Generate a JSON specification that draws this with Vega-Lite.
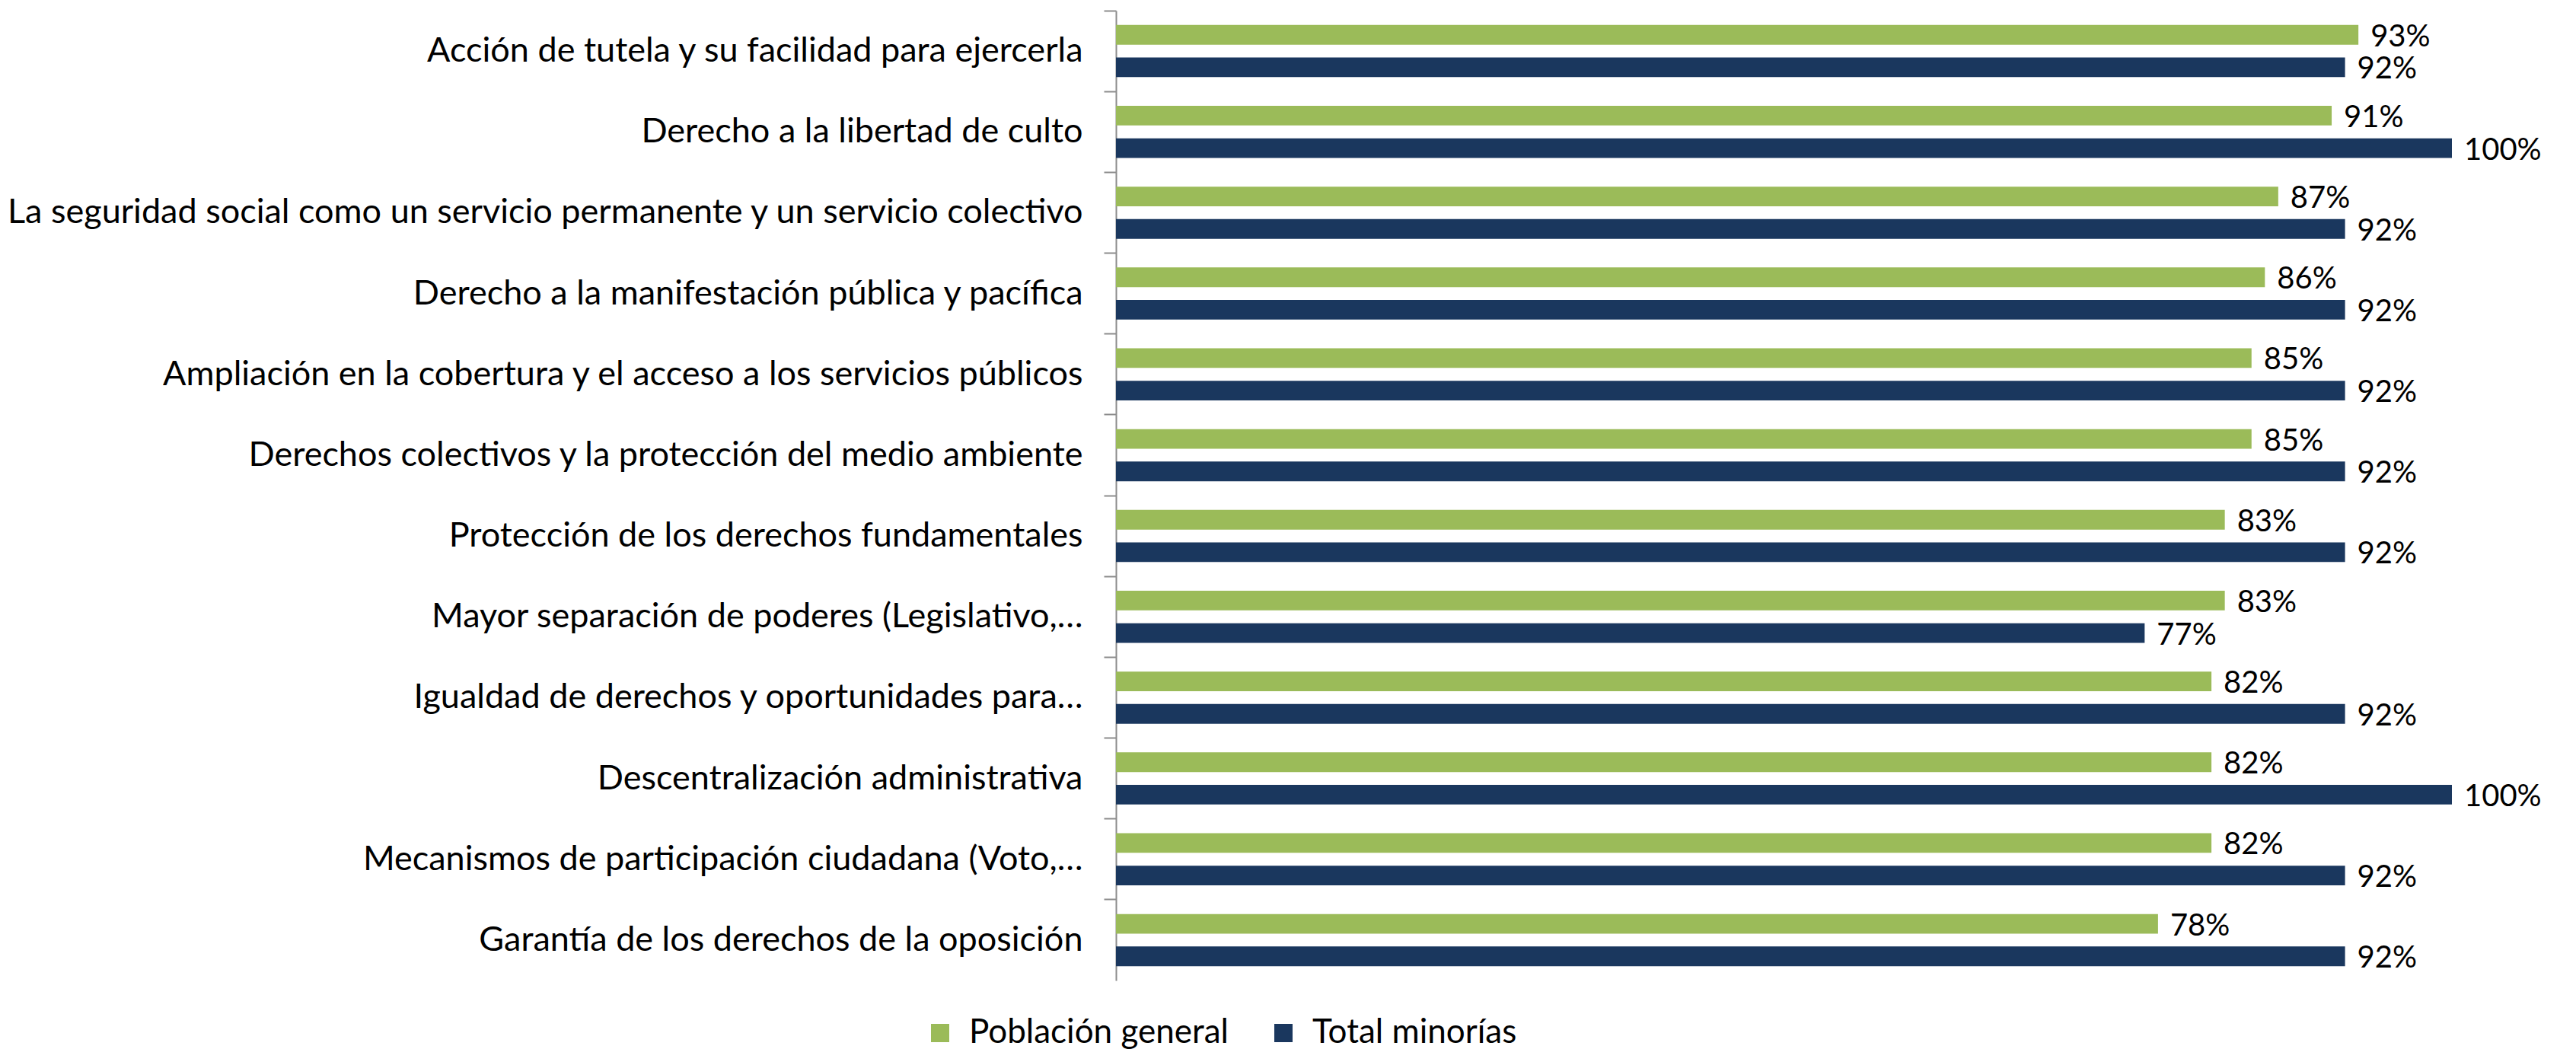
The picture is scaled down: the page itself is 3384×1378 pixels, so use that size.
{
  "$schema": "https://vega.github.io/schema/vega-lite/v6.json",
  "autosize": "none",
  "width": 1755,
  "height": 1274,
  "padding": {"left": 1466, "top": 14, "right": 163, "bottom": 90},
  "background": "white",
  "config": {"view": {"stroke": null}, "font": "Lato"},
  "data": {
    "values": [
      {"item": "Acción de tutela y su facilidad para ejercerla", "serie": "Población general", "valor": 0.93},
      {"item": "Acción de tutela y su facilidad para ejercerla", "serie": "Total minorías", "valor": 0.92},
      {"item": "Derecho a la libertad de culto", "serie": "Población general", "valor": 0.91},
      {"item": "Derecho a la libertad de culto", "serie": "Total minorías", "valor": 1.0},
      {"item": "La seguridad social como un servicio permanente y un servicio colectivo", "serie": "Población general", "valor": 0.87},
      {"item": "La seguridad social como un servicio permanente y un servicio colectivo", "serie": "Total minorías", "valor": 0.92},
      {"item": "Derecho a la manifestación pública y pacífica", "serie": "Población general", "valor": 0.86},
      {"item": "Derecho a la manifestación pública y pacífica", "serie": "Total minorías", "valor": 0.92},
      {"item": "Ampliación en la cobertura y el acceso a los servicios públicos", "serie": "Población general", "valor": 0.85},
      {"item": "Ampliación en la cobertura y el acceso a los servicios públicos", "serie": "Total minorías", "valor": 0.92},
      {"item": "Derechos colectivos y la protección del medio ambiente", "serie": "Población general", "valor": 0.85},
      {"item": "Derechos colectivos y la protección del medio ambiente", "serie": "Total minorías", "valor": 0.92},
      {"item": "Protección de los derechos fundamentales", "serie": "Población general", "valor": 0.83},
      {"item": "Protección de los derechos fundamentales", "serie": "Total minorías", "valor": 0.92},
      {"item": "Mayor separación de poderes (Legislativo,…", "serie": "Población general", "valor": 0.83},
      {"item": "Mayor separación de poderes (Legislativo,…", "serie": "Total minorías", "valor": 0.77},
      {"item": "Igualdad de derechos y oportunidades para…", "serie": "Población general", "valor": 0.82},
      {"item": "Igualdad de derechos y oportunidades para…", "serie": "Total minorías", "valor": 0.92},
      {"item": "Descentralización administrativa", "serie": "Población general", "valor": 0.82},
      {"item": "Descentralización administrativa", "serie": "Total minorías", "valor": 1.0},
      {"item": "Mecanismos de participación ciudadana (Voto,…", "serie": "Población general", "valor": 0.82},
      {"item": "Mecanismos de participación ciudadana (Voto,…", "serie": "Total minorías", "valor": 0.92},
      {"item": "Garantía de los derechos de la oposición", "serie": "Población general", "valor": 0.78},
      {"item": "Garantía de los derechos de la oposición", "serie": "Total minorías", "valor": 0.92}
    ]
  },
  "encoding": {
    "y": {
      "field": "item", "type": "nominal", "sort": null,
      "scale": {"paddingInner": 0, "paddingOuter": 0},
      "axis": {
        "title": null, "labelFontSize": 45, "labelColor": "#000000", "labelPadding": 28,
        "tickSize": 16, "bandPosition": 0, "domainColor": "#8c8c8c", "tickColor": "#8c8c8c",
        "domainWidth": 2, "tickWidth": 2, "labelLimit": 1500, "grid": false
      }
    },
    "yOffset": {
      "field": "serie", "type": "nominal", "sort": ["Población general", "Total minorías"],
      "scale": {"paddingInner": 0.395, "paddingOuter": 0.44}
    },
    "x": {"field": "valor", "type": "quantitative", "scale": {"domain": [0, 1], "nice": false}, "axis": null}
  },
  "layer": [
    {
      "mark": {"type": "bar"},
      "encoding": {
        "color": {
          "field": "serie", "type": "nominal",
          "scale": {"domain": ["Población general", "Total minorías"], "range": ["#9BBB59", "#1A375E"]},
          "legend": {
            "title": null, "orient": "none", "direction": "horizontal",
            "legendX": -253, "legendY": 1321, "symbolType": "square", "symbolSize": 576,
            "symbolStrokeWidth": 0, "labelFontSize": 44, "labelColor": "#000000",
            "labelOffset": 16, "columnPadding": 50, "labelLimit": 600
          }
        }
      }
    },
    {
      "mark": {"type": "text", "align": "left", "baseline": "middle", "dx": 16, "dy": 3, "fontSize": 40, "color": "#000000"},
      "encoding": {"text": {"field": "valor", "type": "quantitative", "format": ".0%"}}
    }
  ]
}
